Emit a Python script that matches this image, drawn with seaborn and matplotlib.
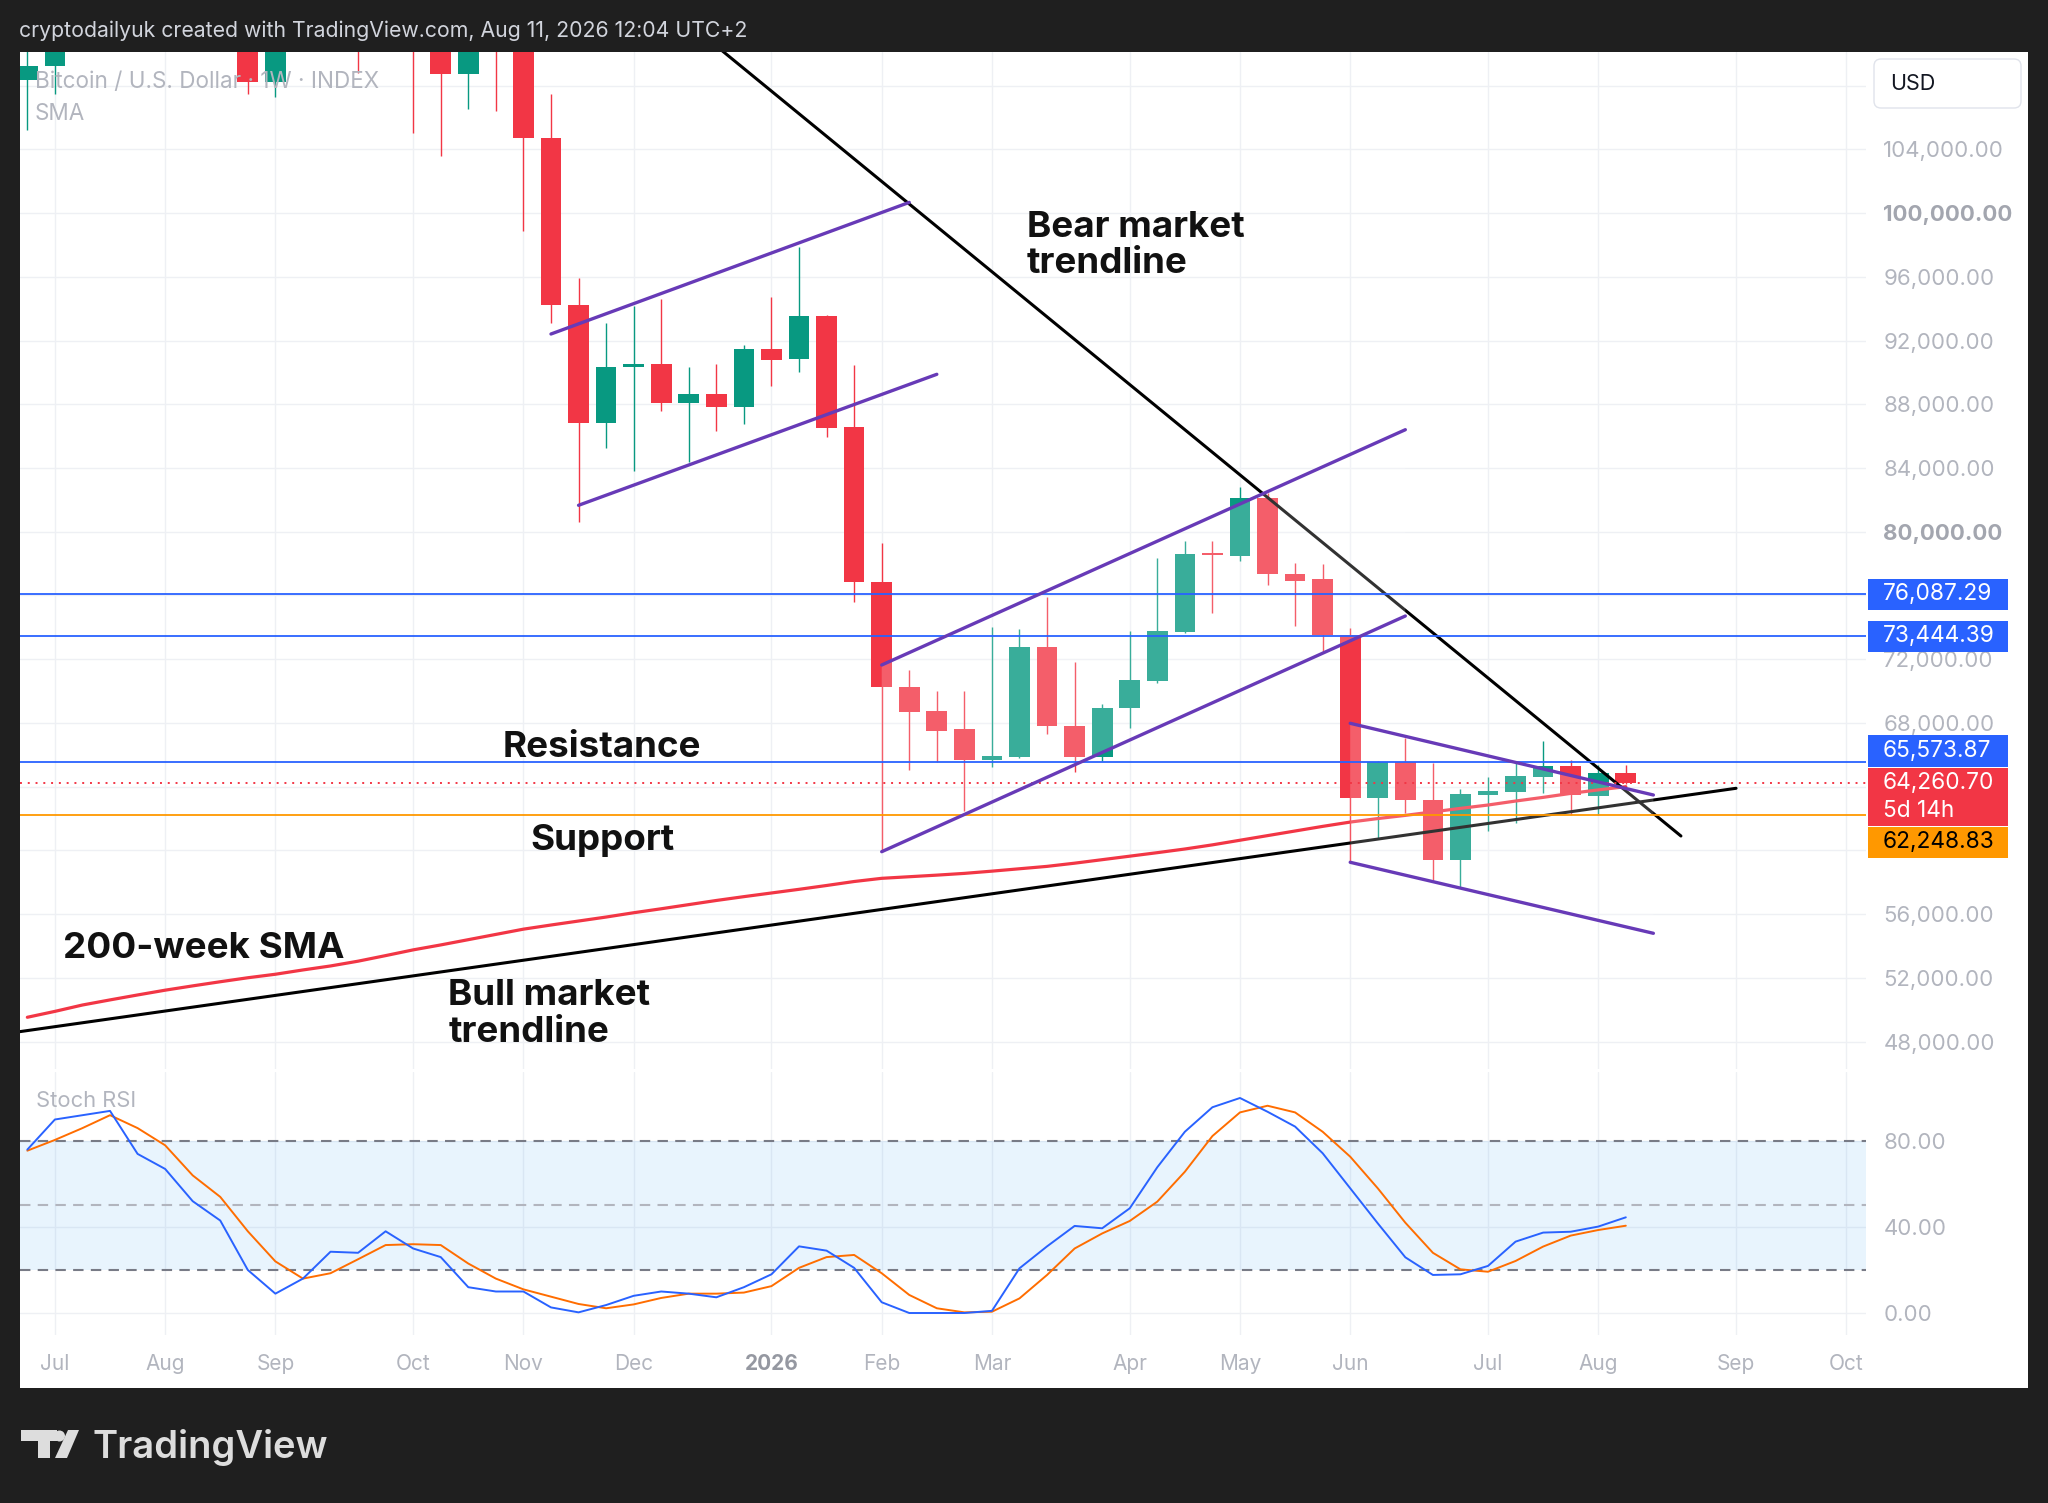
import matplotlib
matplotlib.use("Agg")
import numpy as np
import pandas as pd
import matplotlib.pyplot as plt
import seaborn as sns
from matplotlib.patches import Rectangle, Polygon, Circle, FancyBboxPatch
from matplotlib.transforms import IdentityTransform

# ---------------- data (weekly candles, index 0 = week of 2025-07-07) ----------------
weeks = list(range(-1, 58))
opens = [108350, 109230, 119100, 117300, 119400, 114200, 119300, 117500, 113500, 108240,
         111100, 115300, 115200, 112200, 123500, 115200, 108700, 114500, 110600, 104700,
         94200, 86800, 90360, 90500, 88100, 88630, 87810, 91450, 90860, 93560,
         86550, 76870, 70280, 68770, 67600, 65680, 65880, 72750, 67810, 65880,
         68920, 70650, 73730, 78650, 78480, 82100, 77350, 77020, 73520, 63270,
         65570, 63160, 59400, 63500, 63690, 64630, 65320, 63440, 64840]
highs = [110600, 119500, 123200, 120200, 119800, 122300, 124500, 117600, 113600, 113400,
         116300, 117900, 115400, 125700, 126200, 115900, 116000, 116400, 110700, 107470,
         95940, 93080, 94170, 94590, 90320, 90530, 91720, 94710, 97890, 93600,
         90460, 79270, 71320, 70030, 70030, 74000, 73880, 75920, 71800, 69190,
         73790, 78330, 79440, 79440, 82790, 82400, 78060, 77960, 73940, 65600,
         67040, 65470, 63840, 64590, 65470, 66890, 65680, 65360, 65360]
lows = [105200, 107500, 115700, 114700, 112000, 114100, 116800, 111700, 107450, 107300,
        110600, 114800, 108800, 111700, 105000, 103600, 106500, 106400, 98900, 93120,
        80590, 85240, 83830, 87580, 84400, 86320, 86740, 89160, 90000, 85960,
        75610, 59920, 65050, 65570, 62490, 65220, 65800, 67300, 64940, 65630,
        67670, 70530, 73670, 74880, 78160, 76660, 74080, 72470, 59290, 60760,
        62330, 58140, 57730, 61240, 61700, 63590, 62220, 62220, 64150]
closes = [109230, 119100, 117300, 119400, 114200, 119300, 117500, 113500, 108240, 111100,
          115300, 115200, 112200, 123500, 115200, 108700, 114500, 110600, 104700, 94200,
          86800, 90360, 90500, 88100, 88630, 87810, 91450, 90800, 93560, 86500,
          76870, 70240, 68700, 67510, 65680, 65930, 72750, 67810, 65880, 68960,
          70700, 73790, 78600, 78550, 82100, 77330, 76930, 73520, 63270, 65570,
          63160, 59400, 63540, 63700, 64670, 65320, 63470, 64840, 64260.70]
sma200 = [49530, 49900, 50300, 50620, 50930, 51230, 51500, 51760, 52010, 52230,
          52500, 52750, 53050, 53400, 53760, 54070, 54400, 54730, 55060, 55320,
          55570, 55820, 56090, 56340, 56600, 56860, 57100, 57330, 57560, 57800,
          58050, 58250, 58350, 58450, 58560, 58700, 58850, 59000, 59200, 59420,
          59640, 59860, 60090, 60350, 60640, 60930, 61220, 61510, 61780, 62000,
          62200, 62420, 62640, 62850, 63100, 63330, 63580, 63800, 64000]
stoch_k = [76, 90, 92, 94, 74, 67, 52, 43, 20, 9, 16, 28.5, 28, 38, 30, 26, 12, 10, 10, 2.6,
           0.3, 3.7, 8, 10, 9, 7.3, 12, 18, 31, 29, 21, 5, 0, 0, 0, 1, 20.8, 31, 40.5, 39.4,
           48.7, 67.8, 84.3, 95.7, 100, 93.6, 86.7, 74.3, 58, 41.7, 25.9, 17.7, 18, 21.9,
           33.2, 37.4, 37.8, 40.2, 44.5]
stoch_d = [75.5, 80.5, 86, 92, 86, 78, 64, 54, 38, 24, 16, 18.5, 25, 31.6, 32, 31.6, 23, 16,
           11, 7.6, 4.2, 2.2, 4, 7, 9, 9, 9.5, 12.5, 21, 26, 27, 18.5, 8.4, 2.2, 0.3, 0.6,
           6.8, 17.7, 30, 37, 42.8, 51.8, 65.7, 82.3, 93.3, 96.4, 93.3, 84.3, 72.7, 58, 42,
           28, 20.3, 19.2, 24.2, 30.9, 36, 38.6, 40.6]

month_ticks = [0, 4, 8, 13, 17, 21, 26, 30, 34, 39, 43, 47, 52, 56, 61, 65]
month_labels = ["Jul", "Aug", "Sep", "Oct", "Nov", "Dec", "2026", "Feb", "Mar", "Apr",
                "May", "Jun", "Jul", "Aug", "Sep", "Oct"]
price_ticks = list(range(48000, 108001, 4000))
hidden_price_labels = [108000, 76000, 64000, 60000]   # covered by the scale boxes
stoch_ticks = [0, 40, 80]

resistance_levels = [76087.29, 73444.39, 65573.87]
support_level = 62248.83
last_price = 64260.70
countdown = "5d 14h"

# drawings (week index, price)
bear_x, bear_y = [22, 59], [113316, 60906]
bull_x, bull_y = [-2, 61], [48450, 63900]
ch1_up_x, ch1_up_y = [18, 31], [92409, 100668]
ch1_lo_x, ch1_lo_y = [19, 32], [81659, 89880]
ch2_x = [30, 49]
ch2_up_y = [71637, 86403]
ch2_lo_y = [59921, 74712]
wedge_x = [47, 58]
wedge_up_y = [67978, 63479]
wedge_lo_y = [59256, 54800]

# ---------------- style ----------------
sns.set_theme(style="white")
plt.rcParams["font.family"] = ["Inter", "DejaVu Sans"]

UP, DOWN = "#089981", "#F23645"
GRID = "#EEF0F4"
GRAY = "#B2B5BE"
PURPLE = "#673AB7"
BLUE = "#2962FF"
ORANGE = "#FF9800"

W, H = 2048, 1503
fig = plt.figure(figsize=(W / 100, H / 100), dpi=100, facecolor="#1F1F1F")


def fx(px):
    return px / W


def fy(py):
    return 1 - py / H


fig.add_artist(Rectangle((fx(19.6), fy(1388)), fx(2028) - fx(19.6), fy(52) - fy(1388),
                         transform=fig.transFigure, facecolor="white", edgecolor="none",
                         zorder=-5))

XL = (-1.281, 65.715)

# ---------------- main pane ----------------
ax = fig.add_axes([fx(19.6), fy(1069), fx(1866) - fx(19.6), fy(52) - fy(1069)])
ax.set_facecolor("white")
ax.set_xlim(*XL)
ax.set_ylim(46284, 110106)
ax.set_axisbelow(True)
ax.set_xticks(month_ticks)
ax.set_yticks(price_ticks)
ax.grid(True, color=GRID, lw=1.0)
ax.yaxis.tick_right()
ax.set_yticklabels(["" if v in hidden_price_labels else f"{v:,.2f}" for v in price_ticks])
ax.tick_params(axis="y", length=0, pad=12.5, labelsize=16, labelcolor=GRAY)
ax.tick_params(axis="x", length=0, labelbottom=False)
for lbl, v in zip(ax.get_yticklabels(), price_ticks):
    if v in (100000, 80000):
        lbl.set_fontweight("bold")
        lbl.set_color("#A3A6AF")
for s in ax.spines.values():
    s.set_visible(False)

df = pd.DataFrame(dict(week=weeks, open=opens, high=highs, low=lows, close=closes))
col = np.where(df["close"] >= df["open"], UP, DOWN)
ax.vlines(df["week"], df["low"], df["high"], colors=col, lw=1.0, zorder=2)
body_bottom = np.minimum(df["open"], df["close"])
body_h = np.maximum(np.abs(df["close"] - df["open"]), 110)
ax.bar(df["week"], body_h, bottom=body_bottom, width=0.75, color=col, edgecolor="none",
       zorder=3)

sns.lineplot(x=weeks, y=sma200, ax=ax, color="#F23645", linewidth=2.3, sort=False,
             legend=False, zorder=4)
ax.plot(bull_x, bull_y, color="black", lw=2.2, zorder=4, solid_capstyle="round")
ax.plot(bear_x, bear_y, color="black", lw=2.2, zorder=4, solid_capstyle="round")

# translucent channel fills
ax.add_patch(Polygon([(ch2_x[0], ch2_up_y[0]), (ch2_x[1], ch2_up_y[1]),
                      (ch2_x[1], ch2_lo_y[1]), (ch2_x[0], ch2_lo_y[0])],
                     closed=True, facecolor="white", alpha=0.2, edgecolor="none", zorder=4.5))
ax.add_patch(Polygon([(wedge_x[0], wedge_up_y[0]), (wedge_x[1], wedge_up_y[1]),
                      (wedge_x[1], wedge_lo_y[1]), (wedge_x[0], wedge_lo_y[0])],
                     closed=True, facecolor="white", alpha=0.2, edgecolor="none", zorder=4.5))

for lv in resistance_levels:
    ax.axhline(lv, color=BLUE, lw=1.3, zorder=4.8)
ax.axhline(support_level, color=ORANGE, lw=1.3, zorder=4.8)
ax.axhline(last_price, color="#F23645", lw=1.4, ls=(0, (1, 3)), zorder=4.8)

for xs, ys in [(ch1_up_x, ch1_up_y), (ch1_lo_x, ch1_lo_y), (ch2_x, ch2_up_y),
               (ch2_x, ch2_lo_y), (wedge_x, wedge_up_y), (wedge_x, wedge_lo_y)]:
    ax.plot(xs, ys, color=PURPLE, lw=2.4, zorder=5, solid_capstyle="round")

lab = dict(fontsize=26.5, fontweight="bold", color="#111111", va="baseline", ha="left",
           zorder=6)
ax.text(35.26, 98515, "Bear market", **lab)
ax.text(35.26, 96218, "trendline", **lab)
ax.text(16.25, 65864, "Resistance", **lab)
ax.text(17.25, 60027, "Support", **lab)
ax.text(0.3, 53232, "200-week SMA", **lab)
ax.text(14.27, 50300, "Bull market", **lab)
ax.text(14.27, 47961, "trendline", **lab)

# ---------------- stoch RSI pane ----------------
ax2 = fig.add_axes([fx(19.6), fy(1335), fx(1866) - fx(19.6), fy(1072) - fy(1335)])
ax2.set_facecolor("white")
ax2.set_xlim(*XL)
ax2.set_ylim(-10.23, 112.09)
ax2.set_axisbelow(True)
ax2.set_xticks(month_ticks)
ax2.set_yticks(stoch_ticks)
ax2.grid(True, color=GRID, lw=1.0)
ax2.axhspan(20, 80, color="#2196F3", alpha=0.1, lw=0, zorder=1)
ax2.axhline(80, color="#787B86", lw=1.5, ls=(0, (5, 3.5)), zorder=2)
ax2.axhline(50, color="#B2B5BE", lw=1.5, ls=(0, (5, 3.5)), zorder=2)
ax2.axhline(20, color="#787B86", lw=1.5, ls=(0, (5, 3.5)), zorder=2)
sns.lineplot(x=weeks, y=stoch_d, ax=ax2, color="#FF6D00", linewidth=1.4, sort=False,
             legend=False, zorder=3)
sns.lineplot(x=weeks, y=stoch_k, ax=ax2, color="#2962FF", linewidth=1.4, sort=False,
             legend=False, zorder=3)
ax2.yaxis.tick_right()
ax2.set_yticklabels([f"{v:.2f}" for v in stoch_ticks])
ax2.set_xticklabels(month_labels)
ax2.tick_params(axis="y", length=0, pad=12.5, labelsize=16, labelcolor=GRAY)
ax2.tick_params(axis="x", length=0, pad=14, labelsize=15, labelcolor=GRAY)
for lbl in ax2.get_xticklabels():
    if lbl.get_text() == "2026":
        lbl.set_fontweight("bold")
        lbl.set_color("#9598A1")
ax2.set_xlabel("")
ax2.set_ylabel("")
ax.set_xlabel("")
ax.set_ylabel("")
for s in ax2.spines.values():
    s.set_visible(False)

# ---------------- texts ----------------
fig.text(fx(19), fy(30.7), "cryptodailyuk created with TradingView.com, Aug 11, 2026 12:04 UTC+2",
         color="#D1D4DC", fontsize=15.3, va="center", ha="left")
fig.text(fx(35), fy(81.7), "Bitcoin / U.S. Dollar \u00b7 1W \u00b7 INDEX", color=GRAY,
         fontsize=16.2, va="center", ha="left", zorder=6)
fig.text(fx(35), fy(114.5), "SMA", color=GRAY, fontsize=16.2, va="center", ha="left", zorder=6)
fig.text(fx(35.6), fy(1101), "Stoch RSI", color=GRAY, fontsize=15.8, va="center", ha="left",
         zorder=6)

# USD box
fig.add_artist(FancyBboxPatch((1874, H - 108), 147, 49, boxstyle="round,pad=0,rounding_size=7",
                              transform=IdentityTransform(), facecolor="white",
                              edgecolor="#E0E3EB", lw=1.0, zorder=5))
fig.text(fx(1890), fy(83.5), "USD", color="#131722", fontsize=15.5, va="center", ha="left",
         zorder=6)


# price scale labels
def price_box(value, lines, fc, tc, top_off, height):
    ypix = ax.transData.transform((0, value))[1]
    top = ypix + top_off
    fig.add_artist(Rectangle((1868, top - height), 139.5, height, transform=IdentityTransform(),
                             facecolor=fc, edgecolor="none", zorder=5))
    step = 27.3
    for k, t in enumerate(lines):
        cy = top - 15.5 - k * step
        fig.text(1883 / W, cy / H, t, color=tc, fontsize=16.3, va="center", ha="left",
                 zorder=6)


fig.canvas.draw()
price_box(resistance_levels[0], [f"{resistance_levels[0]:,.2f}"], BLUE, "white", 15.5, 31)
price_box(resistance_levels[1], [f"{resistance_levels[1]:,.2f}"], BLUE, "white", 15.5, 31)
price_box(resistance_levels[2], [f"{resistance_levels[2]:,.2f}"], BLUE, "white", 26.5, 31.5)
price_box(last_price, [f"{last_price:,.2f}", countdown], "#F23645", "white", 14.8, 58)
price_box(support_level, [f"{support_level:,.2f}"], ORANGE, "black", -12, 31.5)

# TradingView logo
LOGO = "#DDDDDD"
fig.add_artist(Rectangle((fx(21), fy(1441)), fx(57) - fx(21), fy(1430) - fy(1441),
                         transform=fig.transFigure, facecolor=LOGO, edgecolor="none"))
fig.add_artist(Rectangle((fx(38), fy(1458)), fx(50) - fx(38), fy(1430) - fy(1458),
                         transform=fig.transFigure, facecolor=LOGO, edgecolor="none"))
fig.add_artist(Circle((59.5, H - 1436), 5.5, transform=IdentityTransform(), facecolor=LOGO,
                      edgecolor="none"))
fig.add_artist(Polygon([(68, H - 1430), (79, H - 1430), (67, H - 1458), (55, H - 1458)],
                       closed=True, transform=IdentityTransform(), facecolor=LOGO,
                       edgecolor="none"))
fig.text(fx(92), fy(1458), "TradingView", color=LOGO, fontsize=27.5, fontweight="semibold",
         va="baseline", ha="left")

fig.savefig("out.png", dpi=100, facecolor=fig.get_facecolor())
